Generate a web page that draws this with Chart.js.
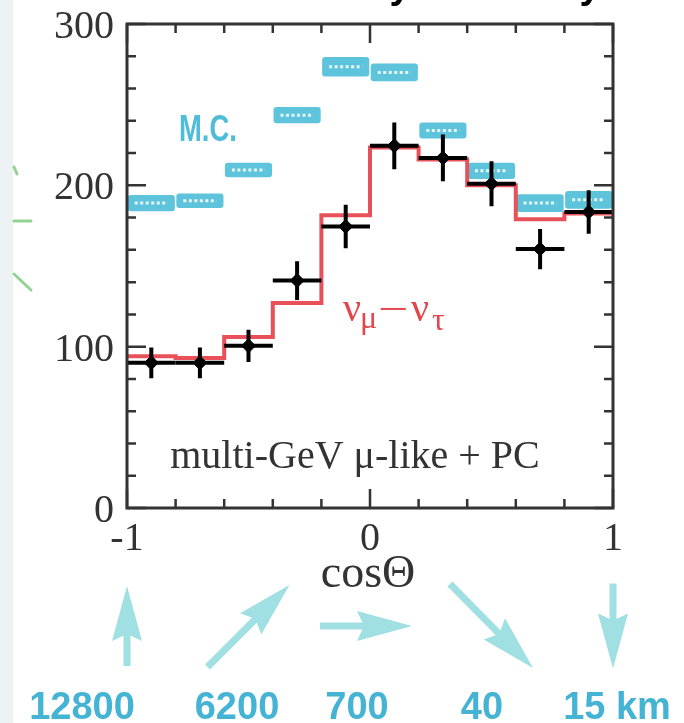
<!DOCTYPE html>
<html>
<head>
<meta charset="utf-8">
<script src="https://cdn.jsdelivr.net/npm/chart.js@4/dist/chart.umd.min.js"></script>
<style>
  html, body { margin: 0; padding: 0; background: #fff; }
  #wrap { width: 684px; height: 723px; position: relative; }
</style>
</head>
<body>
<div id="wrap"><canvas id="c"></canvas></div>
<script>
// zenith-angle bins (cosΘ), bin edges
const binEdges = [-1, -0.8, -0.6, -0.4, -0.2, 0, 0.2, 0.4, 0.6, 0.8, 1];
// observed events per bin and their statistical errors
const dataCounts = [90, 90, 100.5, 141, 174.5, 224.5, 217, 201, 160.5, 183.5];
const dataErrors = [9.5, 9.5, 10, 12, 13.5, 14.5, 14.5, 14, 12.5, 13.5];
// Monte Carlo expectation without oscillation, with its uncertainty
const mcCounts = [189, 190.5, 209.5, 243.5, 273.5, 270, 234, 209, 189, 191];
const mcErrors = [5, 4.5, 4.5, 5, 6, 5.5, 5, 5, 5.5, 5.5];
// best-fit numu -> nutau oscillation expectation
const oscCounts = [94, 93, 106, 127, 181.5, 223.5, 216, 200, 179, 182.5];
// labelled ticks
const xTickLabels = [-1, 0, 1];
const yTickLabels = [0, 100, 200, 300];
// flight-path annotation below the axis
const arrowCos = [-1, -0.5, 0, 0.5, 1];
const pathLabels = ['12800', '6200', '700', '40', '15 km'];

const binCenters = binEdges.slice(0, -1).map((e, i) => (e + binEdges[i + 1]) / 2);

const mcBars = binCenters.map((x, i) => ({ x, y: [mcCounts[i] - mcErrors[i], mcCounts[i] + mcErrors[i]] }));
const oscLine = binEdges.map((x, i) => ({ x, y: oscCounts[Math.min(i, oscCounts.length - 1)] }));
const dataPts = binCenters.map((x, i) => ({ x, y: dataCounts[i] }));

const INK = '#333';
const SERIF = '"Liberation Serif", "Times New Roman", serif';
const SANS = '"Liberation Sans", Arial, sans-serif';

const decorPlugin = {
  id: 'decor',
  beforeDraw(chart) {
    const ctx = chart.ctx;
    ctx.save();
    ctx.fillStyle = '#fff';
    ctx.fillRect(0, 0, chart.width, chart.height);
    ctx.fillStyle = '#edf2f5';
    ctx.fillRect(0, 0, 13, chart.height);
    // edge of the neighbouring panel
    ctx.strokeStyle = 'rgba(110,195,110,0.75)';
    ctx.lineWidth = 3;
    ctx.lineCap = 'round';
    ctx.beginPath();
    ctx.moveTo(14, 167); ctx.lineTo(17, 174);
    ctx.moveTo(14, 221); ctx.lineTo(31, 221);
    ctx.moveTo(14, 274); ctx.lineTo(31, 290);
    ctx.stroke();
    // descenders of the heading above
    ctx.fillStyle = '#000';
    ctx.font = 'bold 38px ' + SANS;
    ctx.textAlign = 'center';
    ctx.textBaseline = 'alphabetic';
    ctx.fillText('y', 400, -2);
    ctx.fillText('y', 590, -2);
    ctx.restore();
  },
  afterDatasetDraw(chart, args) {
    if (args.index !== 0) return;
    // dotted centre line inside each MC box
    const ctx = chart.ctx;
    ctx.save();
    ctx.strokeStyle = 'rgba(255,255,255,0.85)';
    ctx.lineWidth = 3;
    ctx.setLineDash([3, 2.5]);
    args.meta.data.forEach(el => {
      const p = el.getProps(['x', 'y', 'base', 'width'], true);
      const cy = (p.y + p.base) / 2;
      ctx.beginPath();
      ctx.moveTo(p.x - p.width / 2 + 7, cy);
      ctx.lineTo(p.x + p.width / 2 - 7, cy);
      ctx.stroke();
    });
    ctx.restore();
  },
  afterDatasetsDraw(chart) {
    const ctx = chart.ctx;
    const xs = chart.scales.x, ys = chart.scales.y;
    const a = chart.chartArea;
    ctx.save();
    // error bars of the data points
    ctx.strokeStyle = '#000';
    ctx.lineWidth = 4;
    dataCounts.forEach((v, i) => {
      const cx = xs.getPixelForValue(binCenters[i]);
      const cy = ys.getPixelForValue(v);
      ctx.beginPath();
      ctx.moveTo(xs.getPixelForValue(binEdges[i]), cy);
      ctx.lineTo(xs.getPixelForValue(binEdges[i + 1]), cy);
      ctx.moveTo(cx, ys.getPixelForValue(v - dataErrors[i]));
      ctx.lineTo(cx, ys.getPixelForValue(v + dataErrors[i]));
      ctx.stroke();
    });
    // frame
    ctx.strokeStyle = INK;
    ctx.lineWidth = 3;
    ctx.strokeRect(a.left, a.top, a.right - a.left, a.bottom - a.top);
    // inward tick marks
    ctx.lineWidth = 2.5;
    ctx.beginPath();
    xs.ticks.forEach(t => {
      const v = Math.round(t.value * 10) / 10;
      const px = xs.getPixelForValue(v);
      const len = xTickLabels.includes(v) ? 19 : 9;
      ctx.moveTo(px, a.bottom); ctx.lineTo(px, a.bottom - len);
      ctx.moveTo(px, a.top); ctx.lineTo(px, a.top + len);
    });
    ys.ticks.forEach(t => {
      const py = ys.getPixelForValue(t.value);
      const len = yTickLabels.includes(t.value) ? 19 : 9;
      ctx.moveTo(a.left, py); ctx.lineTo(a.left + len, py);
      ctx.moveTo(a.right, py); ctx.lineTo(a.right - len, py);
    });
    ctx.stroke();
    ctx.restore();
  },
  afterDraw(chart) {
    const ctx = chart.ctx;
    const xs = chart.scales.x, ys = chart.scales.y;
    const a = chart.chartArea;
    ctx.save();
    // tick labels
    ctx.fillStyle = INK;
    ctx.font = '40px ' + SERIF;
    ctx.textBaseline = 'alphabetic';
    ctx.textAlign = 'right';
    yTickLabels.forEach(v => ctx.fillText(String(v), a.left - 13, ys.getPixelForValue(v) + 14));
    ctx.textAlign = 'center';
    xTickLabels.forEach(v => ctx.fillText(String(v), xs.getPixelForValue(v), a.bottom + 42));
    // axis title
    ctx.font = '46px ' + SERIF;
    ctx.fillText('cosΘ', xs.getPixelForValue(0) - 2, a.bottom + 79);
    // sample name
    ctx.font = '40px ' + SERIF;
    ctx.fillText('multi-GeV μ-like + PC', 355, 468);
    // MC label
    ctx.fillStyle = '#4fbcd8';
    ctx.font = 'bold 37px ' + SANS;
    ctx.textAlign = 'left';
    ctx.save();
    ctx.translate(179, 141);
    ctx.scale(0.74, 1);
    ctx.fillText('M.C.', 0, 0);
    ctx.restore();
    // oscillation label
    ctx.fillStyle = '#e4464e';
    ctx.font = '40px ' + SERIF;
    ctx.fillText('ν', 343, 321);
    ctx.fillText('ν', 411, 321);
    ctx.save();
    ctx.translate(378, 322);
    ctx.scale(1.35, 1);
    ctx.fillText('−', 0, 0);
    ctx.restore();
    ctx.font = '32px ' + SERIF;
    ctx.fillText('μ', 360, 328);
    ctx.fillText('τ', 432, 330);
    // flight-path arrows
    const arrowVec = [[0, -80], [82, -82], [92, 0], [83, 84], [0, 85]];
    const arrowMidY = 626;
    ctx.fillStyle = '#a0dfe2';
    ctx.strokeStyle = '#a0dfe2';
    arrowCos.forEach((c, i) => {
      const [dx, dy] = arrowVec[i];
      const cx = xs.getPixelForValue(c) + (i === 2 ? -4 : 0);
      const x0 = cx - dx / 2, y0 = arrowMidY - dy / 2;
      const x1 = cx + dx / 2, y1 = arrowMidY + dy / 2;
      const L = Math.hypot(dx, dy);
      const ux = dx / L, uy = dy / L;
      const head = 55, hw = 15;
      const bx = x1 - ux * head, by = y1 - uy * head;
      ctx.lineWidth = 7;
      ctx.beginPath();
      ctx.moveTo(x0, y0);
      ctx.lineTo(bx + ux * 14, by + uy * 14);
      ctx.stroke();
      ctx.beginPath();
      ctx.moveTo(x1, y1);
      ctx.lineTo(bx - uy * hw, by + ux * hw);
      ctx.lineTo(bx + ux * 7, by + uy * 7);
      ctx.lineTo(bx + uy * hw, by - ux * hw);
      ctx.closePath();
      ctx.fill();
    });
    // flight-path lengths
    const labelX = [82, 237, 357, 482, 617];
    ctx.fillStyle = '#45b3d3';
    ctx.font = 'bold 38px ' + SANS;
    ctx.textAlign = 'center';
    pathLabels.forEach((t, i) => ctx.fillText(t, labelX[i], 719));
    ctx.restore();
  }
};

new Chart(document.getElementById('c'), {
  type: 'line',
  data: {
    datasets: [
      {
        type: 'bar',
        label: 'M.C.',
        data: mcBars,
        backgroundColor: '#5ec4dc',
        borderWidth: 0,
        borderRadius: 3,
        borderSkipped: false,
        barPercentage: 0.97,
        categoryPercentage: 1,
        order: 3
      },
      {
        type: 'line',
        label: 'νμ−ντ',
        data: oscLine,
        stepped: 'before',
        borderColor: '#e8505a',
        borderWidth: 4,
        pointRadius: 0,
        fill: false,
        order: 2
      },
      {
        type: 'line',
        label: 'data',
        data: dataPts,
        showLine: false,
        pointStyle: 'rectRot',
        pointRadius: 7,
        pointBackgroundColor: '#000',
        pointBorderColor: '#000',
        pointBorderWidth: 1,
        order: 1
      }
    ]
  },
  options: {
    responsive: true,
    maintainAspectRatio: false,
    animation: false,
    devicePixelRatio: 1,
    layout: { padding: { left: 127, right: 71, top: 24, bottom: 215 } },
    plugins: { legend: { display: false }, tooltip: { enabled: false } },
    scales: {
      x: { type: 'linear', min: -1, max: 1, offset: false, display: false, ticks: { stepSize: 0.2 } },
      y: { type: 'linear', min: 0, max: 300, display: false, ticks: { stepSize: 20 } }
    }
  },
  plugins: [decorPlugin]
});
</script>
</body>
</html>
